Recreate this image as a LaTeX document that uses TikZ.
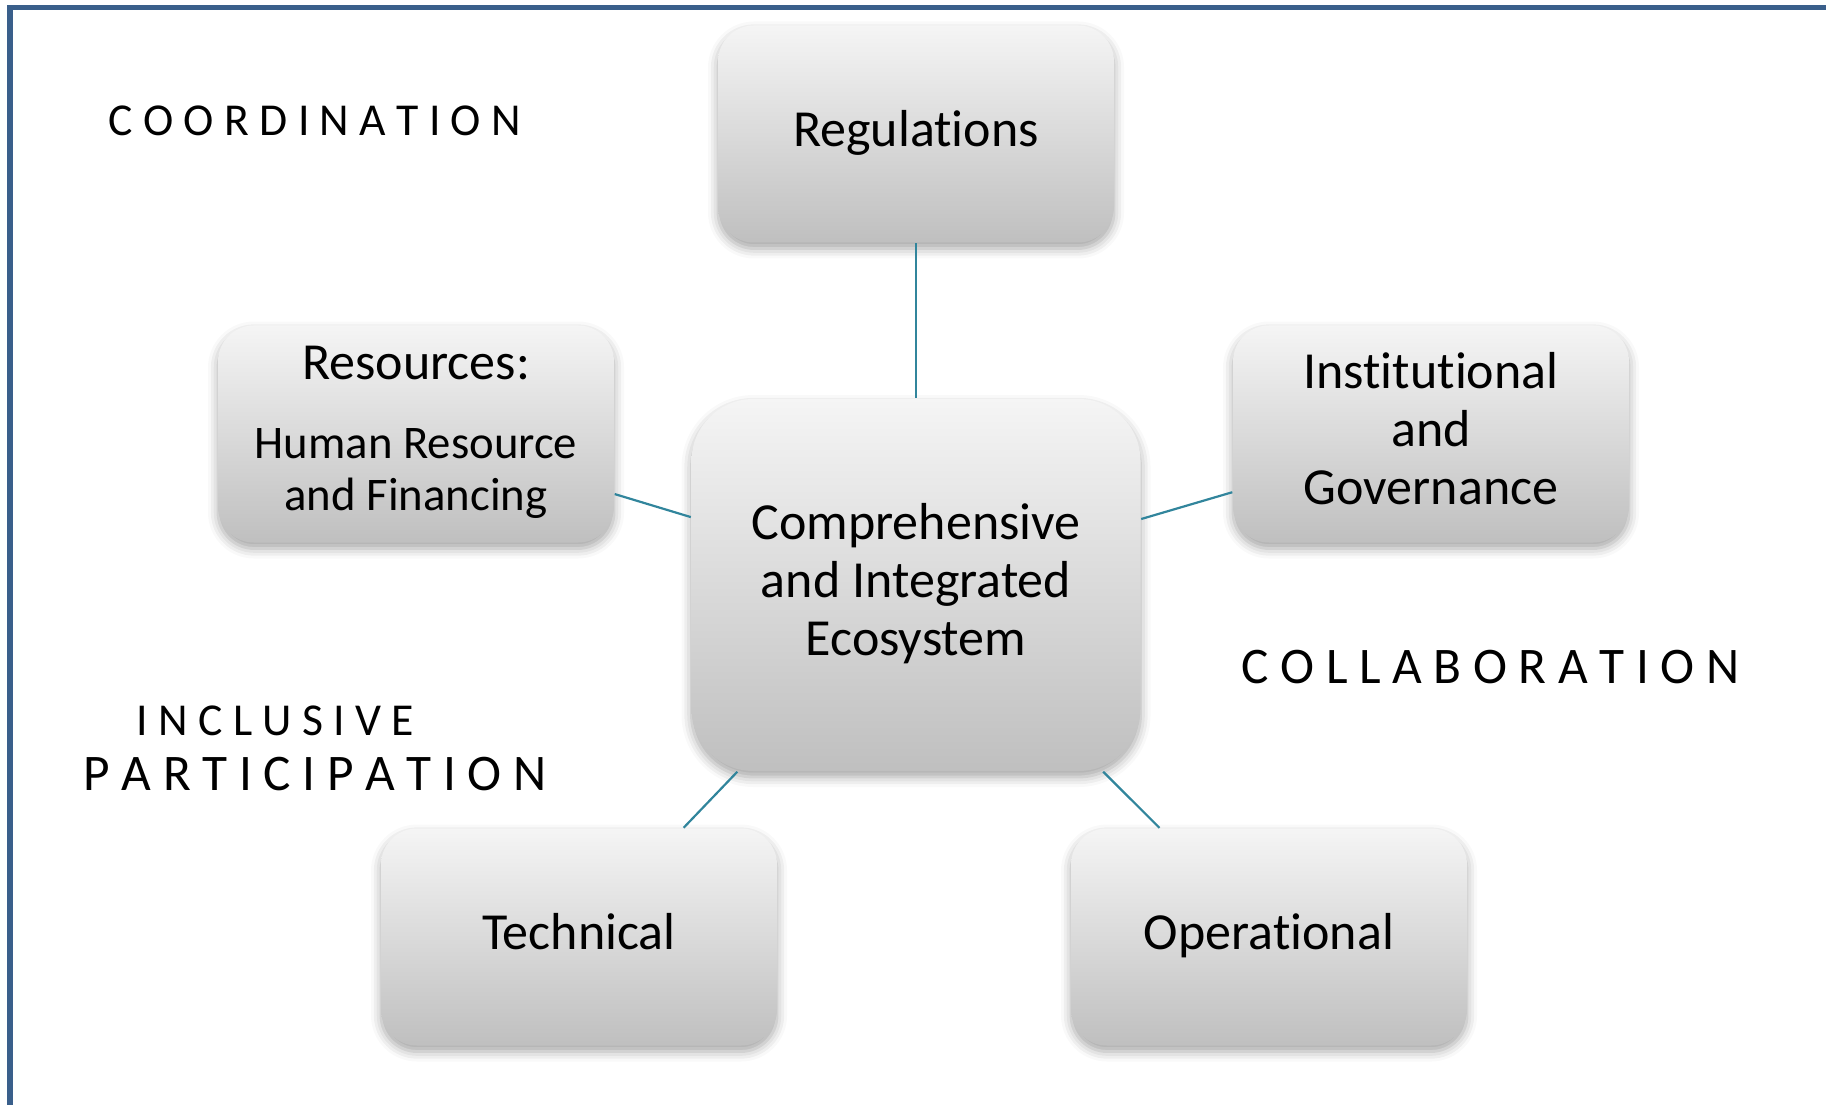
\documentclass[tikz,border=0pt]{standalone}
\usepackage{fontspec}
\setmainfont{Carlito}[Ligatures={NoCommon,NoContextual}]
\usetikzlibrary{shadows.blur}

\definecolor{frameblue}{HTML}{3A5F8B}
\definecolor{linkteal}{HTML}{31859C}

\newcommand{\boxfont}{\fontsize{14.8}{16.5}\selectfont}
\newcommand{\subfont}{\fontsize{13.3}{14.8}\selectfont}

\tikzset{
  pillar/.style={rounded corners=3.6mm, minimum width=39.6mm, minimum height=21.7mm,
    top color=gray!8, bottom color=gray!50, align=center, font=\boxfont, text depth=1.2mm,
    blur shadow={shadow xshift=0mm, shadow yshift=-0.6mm, shadow opacity=35, shadow blur radius=1mm}},
  core/.style={pillar, rounded corners=6.2mm, minimum width=44.9mm, minimum height=37.2mm},
  link/.style={draw=linkteal, line width=0.22mm},
  theme/.style={anchor=west, inner sep=0pt}
}

\begin{document}
\begin{tikzpicture}[x=0.1mm, y=-0.1mm]
  \useasboundingbox (0,0) rectangle (1826,1105);

  % frame, only top and left edges fall on the page
  \draw[frameblue, line width=0.55mm] (10,1105) -- (10,7.5) -- (1826,7.5);

  % boxes
  \node[core] (eco) at (916,585) {Comprehensive\\and Integrated\\Ecosystem};
  \node[pillar] (reg) at (916,134) {Regulations};
  \node[pillar] (res) at (416,434) {Resources:\\[2.1mm]\subfont Human Resource\\[-0.6mm]\subfont and Financing};
  \node[pillar] (inst) at (1431,434) {Institutional\\and\\Governance};
  \node[pillar] (tech) at (579,937) {Technical};
  \node[pillar] (oper) at (1269,937) {Operational};

  % spokes
  \draw[link] (reg) -- (eco);
  \draw[link] (res) -- (eco);
  \draw[link] (inst) -- (eco);
  \draw[link] (tech) -- (eco);
  \draw[link] (oper) -- (eco);

  % themes around the hub
  \node[theme, font=\fontsize{13}{15}\selectfont] (coord) at (108,121) {C O O R D I N A T I O N};
  \node[theme, font=\fontsize{14.6}{16}\selectfont] (collab) at (1241,667) {C O L L A B O R A T I O N};
  \node[theme, font=\fontsize{13}{15}\selectfont] (incl) at (136,721) {I N C L U S I V E};
  \node[theme, font=\fontsize{14.6}{16}\selectfont] (part) at (83,774) {P A R T I C I P A T I O N};
\end{tikzpicture}
\end{document}
